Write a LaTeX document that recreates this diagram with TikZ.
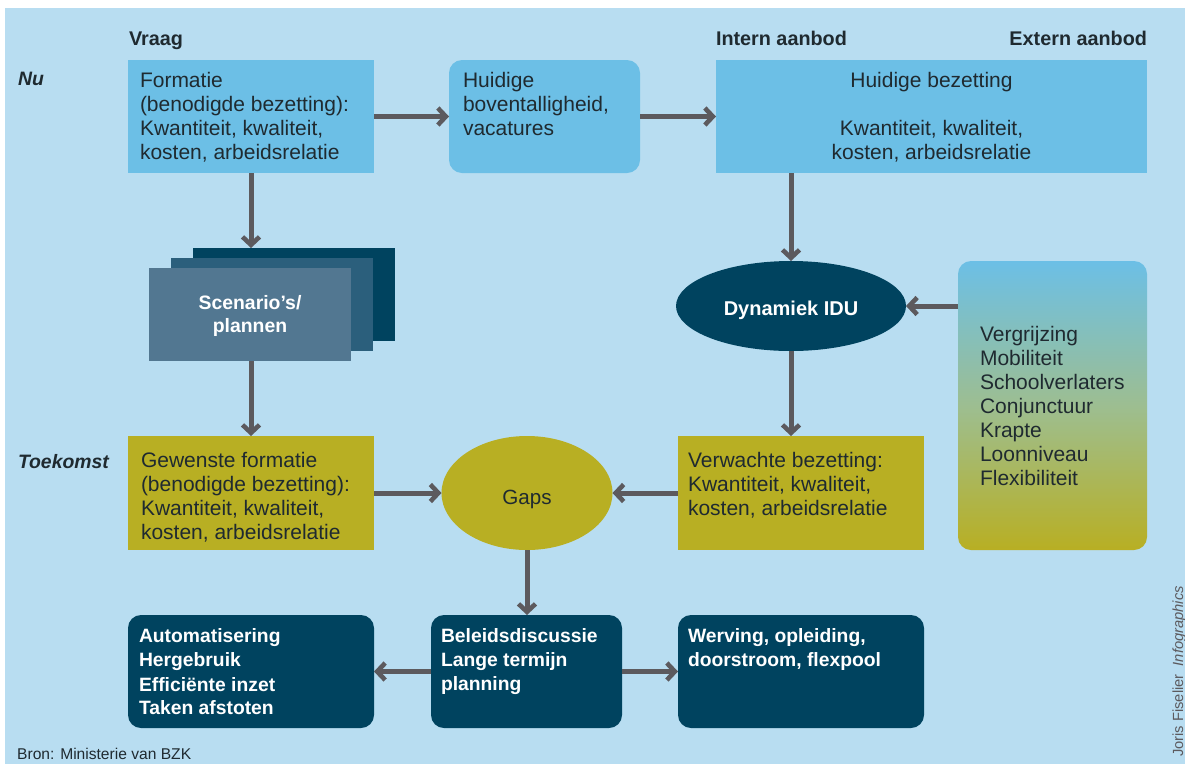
\documentclass[tikz,border=0pt]{standalone}
\usepackage{fontspec}
\setmainfont{Liberation Sans}
\usetikzlibrary{arrows.meta,shapes.geometric}
\definecolor{bgc}{HTML}{B8DDF1}
\definecolor{lblue}{HTML}{6CBFE6}
\definecolor{dnavy}{HTML}{00435F}
\definecolor{midb}{HTML}{2B5F7C}
\definecolor{slate}{HTML}{527791}
\definecolor{olive}{HTML}{B8AF23}
\definecolor{arr}{HTML}{5C5A5E}
\definecolor{txt}{HTML}{1F2A30}
\tikzset{
  x=1pt,y=-1pt,
  base/.style={anchor=north west,inner sep=0pt,outer sep=0pt,text=txt},
  sq/.style={base,fill=#1},
  rnd/.style={base,fill=#1,rounded corners=13pt},
  lab/.style={inner sep=0pt,outer sep=0pt,text=txt,font=\fontsize{19.8}{24}\selectfont\bfseries},
  ital/.style={lab,anchor=base west,font=\fontsize{19.4}{24}\selectfont\bfseries\itshape},
  body/.style={inner sep=0pt,outer sep=0pt,text=txt,align=left,anchor=north west,font=\fontsize{21}{24}\selectfont},
  bodyw/.style={body,text=white,font=\fontsize{19.3}{24}\selectfont\bfseries},
  flow/.style={draw=arr,line width=5pt,-{Straight Barb[length=8pt,width=17pt,line width=4.6pt]}},
}
\begin{document}
\begin{tikzpicture}
\useasboundingbox (0,0) rectangle (1185,764);
\fill[white] (0,0) rectangle (1185,764);
\fill[bgc] (5,8) rectangle (1185,764);
% headers
\node[lab,anchor=base west] (hvraag) at (129,45) {Vraag};
\node[lab,anchor=base west] (hintern) at (716,45) {Intern aanbod};
\node[lab,anchor=base east] (hextern) at (1147,45) {Extern aanbod};
\node[ital] (hnu) at (18,85) {Nu};
\node[ital] (htoek) at (18,468) {Toekomst};
% boxes row 1
\node[sq=lblue,minimum width=246pt,minimum height=113pt] (form) at (128,60) {};
\node[body] (tform) at (140,72.5) {Formatie\\(benodigde bezetting):\\Kwantiteit, kwaliteit,\\kosten, arbeidsrelatie};
\node[rnd=lblue,minimum width=191pt,minimum height=113pt] (boven) at (449,60) {};
\node[body] (tboven) at (463,72.5) {Huidige\\boventalligheid,\\vacatures};
\node[sq=lblue,minimum width=431pt,minimum height=113pt] (bez) at (716,60) {};
\node[body,align=center,anchor=north] (tbez) at (931.5,72.5) {Huidige bezetting\\[24pt]Kwantiteit, kwaliteit,\\kosten, arbeidsrelatie};
% scenarios
\node[sq=dnavy,minimum width=202pt,minimum height=93pt] (back) at (193,248) {};
\node[sq=midb,minimum width=202pt,minimum height=93pt] (mid) at (171,258) {};
\node[sq=slate,minimum width=202pt,minimum height=93pt] (scen) at (149,268) {};
\node[lab,text=white,align=center,font=\fontsize{19.4}{23.5}\selectfont\bfseries] (tscen) at (250,316) {Scenario’s/\\plannen};
% dynamiek
\node[ellipse,fill=dnavy,minimum width=230pt,minimum height=90pt,inner sep=0pt,outer sep=0pt,text=white,font=\fontsize{20}{23}\selectfont\bfseries] (dyn) at (791,306) {\raisebox{-9pt}[0pt][0pt]{Dynamiek IDU}};
% factors
\node[base,rounded corners=13pt,minimum width=189pt,minimum height=289pt,top color=lblue,bottom color=olive,middle color=lblue!50!olive!90!white] (fact) at (958,261) {};
\node[body] (tfact) at (980,326.5) {Vergrijzing\\Mobiliteit\\Schoolverlaters\\Conjunctuur\\Krapte\\Loonniveau\\Flexibiliteit};
% row 2
\node[sq=olive,minimum width=246pt,minimum height=114pt] (gew) at (128,436) {};
\node[body] (tgew) at (141,452.5) {Gewenste formatie\\(benodigde bezetting):\\Kwantiteit, kwaliteit,\\kosten, arbeidsrelatie};
\node[ellipse,fill=olive,minimum width=171pt,minimum height=114pt,inner sep=0pt,outer sep=0pt,text=txt,font=\fontsize{20.6}{24}\selectfont] (gaps) at (527,493) {\raisebox{-11pt}[0pt][0pt]{Gaps}};
\node[sq=olive,minimum width=246pt,minimum height=114pt] (verw) at (678,436) {};
\node[body] (tverw) at (688,452) {Verwachte bezetting:\\Kwantiteit, kwaliteit,\\kosten, arbeidsrelatie};
% row 3
\node[rnd=dnavy,minimum width=246pt,minimum height=113pt] (aut) at (128,615) {};
\node[bodyw] (taut) at (139,629) {Automatisering\\Hergebruik\\Efficiënte inzet\\Taken afstoten};
\node[rnd=dnavy,minimum width=191pt,minimum height=113pt] (bel) at (431,615) {};
\node[bodyw] (tbel) at (441,629) {Beleidsdiscussie\\Lange termijn\\planning};
\node[rnd=dnavy,minimum width=246pt,minimum height=113pt] (wer) at (678,615) {};
\node[bodyw] (twer) at (688,629) {Werving, opleiding,\\doorstroom, flexpool};
% notes
\node[inner sep=0pt,anchor=base west,text=txt,font=\fontsize{15.6}{16}\selectfont] (bron) at (17,759) {Bron: Ministerie van BZK};
\node[inner sep=0pt,anchor=base west,rotate=90,text=arr,font=\fontsize{14.7}{16}\selectfont] (joris) at (1183,757) {Joris Fiselier \ {\itshape Infographics}};
% connectors
\draw[flow] (form.east) -- (boven.west);
\draw[flow] (boven.east) -- (bez.west);
\draw[flow] (form.south) -- (form.south |- back.north);
\draw[flow] (scen.south -| gew.north) -- (gew.north);
\draw[flow] (dyn.north |- bez.south) -- (dyn.north);
\draw[flow] (fact.west |- dyn.east) -- (dyn.east);
\draw[flow] (dyn.south) -- (dyn.south |- verw.north);
\draw[flow] (gew.east) -- (gaps.west);
\draw[flow] (verw.west) -- (gaps.east);
\draw[flow] (gaps.south) -- (gaps.south |- bel.north);
\draw[flow] (bel.west) -- (aut.east);
\draw[flow] (bel.east) -- (wer.west);
\end{tikzpicture}
\end{document}
